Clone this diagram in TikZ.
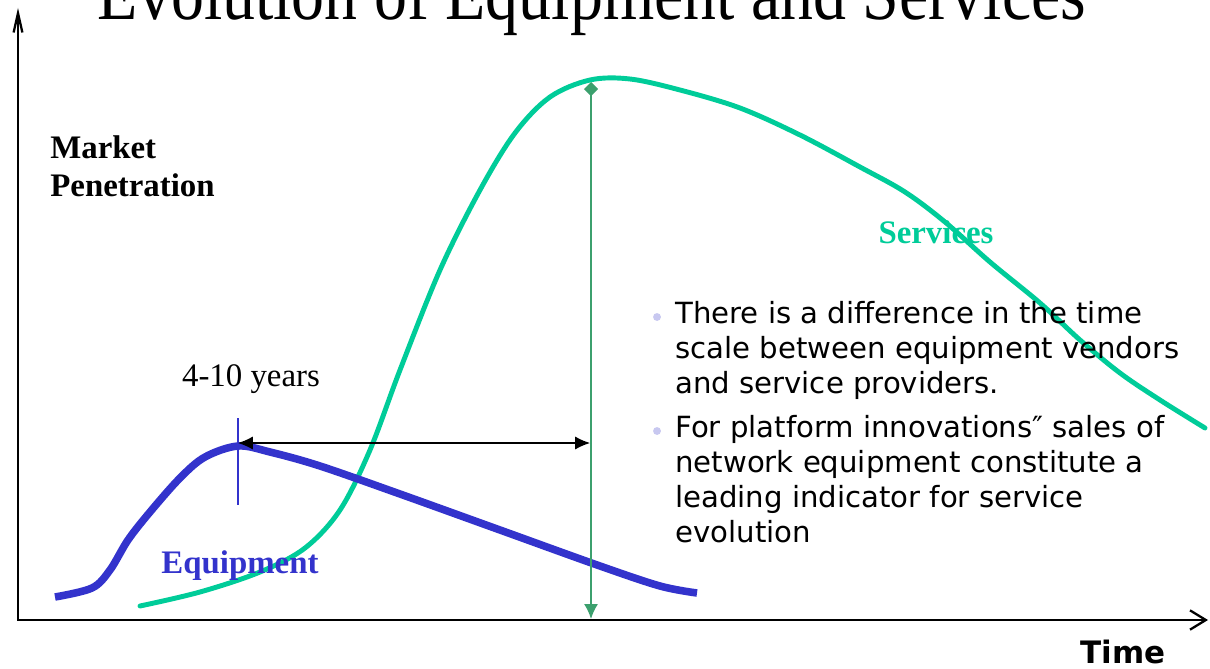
\documentclass[tikz,border=0pt]{standalone}
\usepackage{fontspec}
\setmainfont{Liberation Serif}
\newfontfamily\notefont{DejaVu Sans}
\usetikzlibrary{positioning}
\usetikzlibrary{arrows.meta}

\definecolor{equipblue}{RGB}{51,51,204}
\definecolor{servgreen}{RGB}{0,204,153}
\definecolor{markgreen}{RGB}{60,160,110}
\definecolor{dotlilac}{RGB}{200,200,240}

\tikzset{
  axisline/.style={line width=1.3pt},
  curvelabel/.style={font=\fontsize{18.7}{22}\selectfont\bfseries, anchor=base, inner sep=0pt},
  notetext/.style={font=\notefont\fontsize{16.6}{20}\selectfont, anchor=base west, inner sep=0pt},
  notedot/.style={circle, fill=dotlilac, inner sep=0pt, minimum size=4.5pt}
}

\begin{document}
\begin{tikzpicture}[x=0.02cm, y=-0.02cm]

    \useasboundingbox (0,0) rectangle (1210,669);

    % Title
    \node[font=\fontsize{37.5}{40}\selectfont, anchor=base, inner sep=0pt, yscale=1.15] (title) at (592,20) {Evolution of Equipment and Services};

    % Axes
    \coordinate (ytop) at (18,8);
    \coordinate (origin) at (18,620);
    \coordinate (xend) at (1208,620);
    \draw[axisline, {Straight Barb[length=11pt,width=5pt]}-{Straight Barb[length=9pt,width=11pt]}] (ytop) -- (origin) -- (xend);

    \node[font=\fontsize{18.7}{22}\selectfont\bfseries, anchor=base west, inner sep=0pt] (market) at (50,158) {Market};
    \node[font=\fontsize{18.7}{22}\selectfont\bfseries, anchor=base west, inner sep=0pt] (penetration) at (50,196) {Penetration};
    \node[font=\notefont\fontsize{17.6}{20}\selectfont\bfseries, anchor=base, inner sep=0pt] (time) at (1123,663) {Time};

    % Curves
    \draw[servgreen, line width=2.8pt, line cap=round] plot[smooth, tension=0.55] coordinates {
      (140,606) (200,592) (260,572) (305,548) (340,510) (370,450) (400,370) (440,270)
      (480,190) (515,133) (550,97) (590,80) (630,79) (680,90) (740,108) (800,135)
      (860,167) (905,192) (945,222) (990,262) (1040,303) (1080,340) (1120,373) (1160,400) (1205,428)};
    \draw[equipblue, line width=4.3pt] plot[smooth, tension=0.55] coordinates {
      (55,597) (92,588) (110,570) (128,540) (150,512) (180,478) (205,457) (238,446)
      (270,452) (320,466) (400,494) (500,530) (600,566) (660,586) (697,593)};

    \node[curvelabel, text=servgreen] (services) at (936,243) {Services};
    \node[curvelabel, text=equipblue] (equipment) at (240,573) {Equipment};

    % Time gap
    \coordinate (ticktop) at (238,418);
    \coordinate (tickbot) at (238,505);
    \draw[equipblue, line width=0.8pt] (ticktop) -- (tickbot);
    \coordinate (gapleft) at (238,443);
    \coordinate (gapright) at (590,443);
    \draw[line width=0.7pt, {Latex[length=8.5pt,width=7.5pt]}-{Latex[length=8.5pt,width=7.5pt]}] (gapleft) -- (gapright);
    \node[font=\fontsize{18.7}{22}\selectfont, anchor=base, inner sep=0pt] (years) at (251,386) {4-10 years};

    \coordinate (servpeak) at (591,82);
    \coordinate (servbase) at (591,619);
    \draw[markgreen, line width=1pt, {Diamond[length=8pt,width=8pt]}-{Latex[length=8.5pt,width=8pt]}] (servpeak) -- (servbase);

    % Notes
    \node[notedot] (dot1) at (657,317) {};
    \node[notedot] (dot2) at (657,431) {};
    \foreach \yy/\txt in {323/There is a difference in the time, 358/scale between equipment vendors, 393/and service providers.,
      437/For platform innovations″ sales of, 472/network equipment constitute a, 507/leading indicator for service, 542/evolution}
      \node[notetext] at (675,\yy) {\txt};

\end{tikzpicture}
\end{document}
